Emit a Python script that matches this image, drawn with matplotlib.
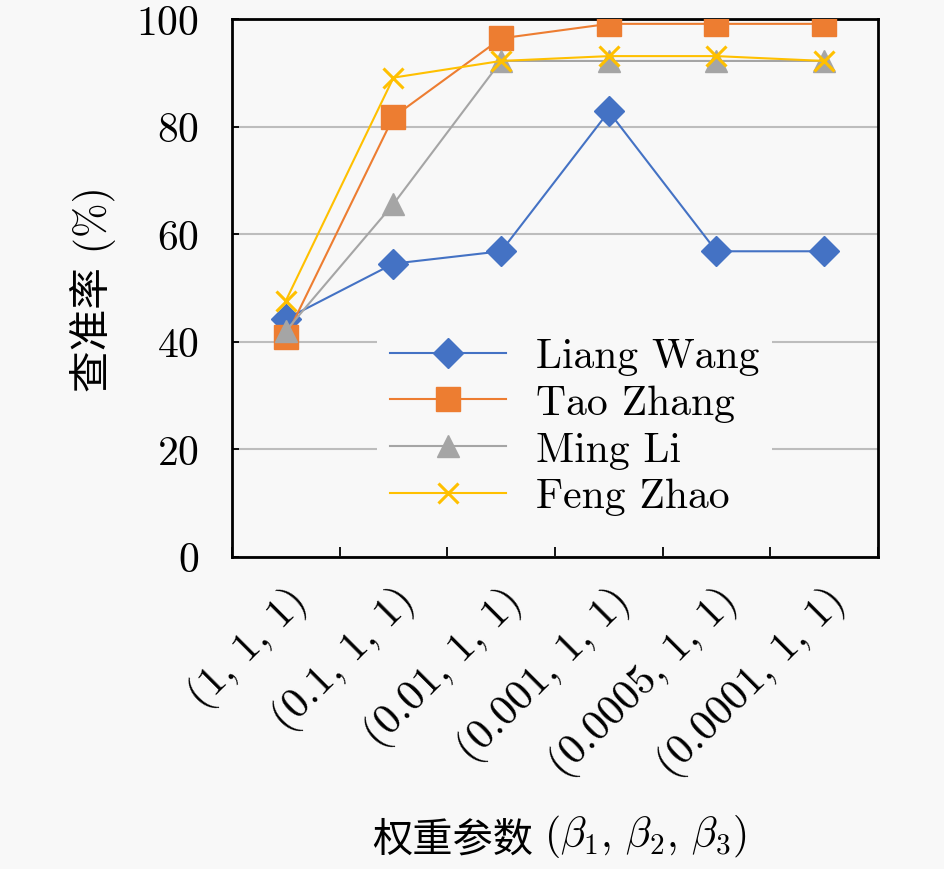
import matplotlib
matplotlib.use('Agg')

import matplotlib.pyplot as plt
import numpy as np

plt.rcParams['font.family'] = ['cmr10', 'Noto Sans CJK SC']
plt.rcParams['mathtext.fontset'] = 'cm'
plt.rcParams['axes.formatter.use_mathtext'] = True

# data
params = ['(1, 1, 1)', '(0.1, 1, 1)', '(0.01, 1, 1)', '(0.001, 1, 1)',
          '(0.0005, 1, 1)', '(0.0001, 1, 1)']
liang_wang = [44.2, 54.5, 56.8, 82.8, 56.8, 56.8]
tao_zhang = [40.8, 81.8, 96.4, 99.1, 99.1, 99.1]
ming_li = [42.0, 65.6, 92.2, 92.2, 92.2, 92.2]
feng_zhao = [47.6, 89.1, 92.2, 93.1, 93.1, 92.2]

series = [
    ('Liang Wang', liang_wang, '#4472C4', 'D', 15),
    ('Tao Zhang', tao_zhang, '#ED7D31', 's', 17),
    ('Ming Li', ming_li, '#A5A5A5', '^', 16),
    ('Feng Zhao', feng_zhao, '#FFC000', 'x', 14),
]

bg = '#f8f8f8'
fig = plt.figure(figsize=(9.45, 8.7), dpi=100, facecolor=bg)
ax = fig.add_axes([0.2455, 0.359, 0.6835, 0.618], facecolor=bg)

x = np.arange(len(params))
for name, vals, col, mk, ms in series:
    ax.plot(x, vals, color=col, lw=1.5, marker=mk, ms=ms, mew=2.2 if mk == 'x' else 1,
            mec=col, mfc=col, label=name, zorder=3)

ax.set_xlim(-0.5, len(params) - 0.5)
ax.set_ylim(0, 100)
ax.set_yticks([0, 20, 40, 60, 80, 100])
ax.grid(axis='y', color='#bdbdbd', lw=1.5, zorder=0)
ax.set_axisbelow(True)

# category labels at centres, tick marks on the boundaries
ax.set_xticks(x)
ax.set_xticklabels(params, rotation=45, ha='right', va='top', rotation_mode='anchor')
ax.set_xticks(np.arange(len(params) + 1) - 0.5, minor=True)
ax.tick_params(axis='x', which='major', length=0, pad=16, labelsize=31)
ax.tick_params(axis='x', which='minor', direction='in', length=7, width=1.3)
ax.tick_params(axis='y', direction='in', length=5, width=1.3, pad=24, labelsize=30)

for sp in ax.spines.values():
    sp.set_linewidth(2)
    sp.set_color('black')

ax.set_ylabel('查准率 (%)', fontsize=30, labelpad=14)

# x label: CJK part and math part as two joined texts
t1 = fig.text(533 / 945, 1 - 852 / 870, '权重参数', fontsize=29, ha='right', va='baseline')
ax.annotate(r'$(\beta_1,\,\beta_2,\,\beta_3)$', xy=(1, 0), xycoords=t1,
            xytext=(8, 0), textcoords='offset points', fontsize=30,
            ha='left', va='bottom')

leg = ax.legend(loc='upper left', bbox_to_anchor=(0.225, 0.43), fontsize=30,
                frameon=True, handlelength=2.8, handletextpad=0.72,
                labelspacing=0.22, borderpad=0.3, borderaxespad=0)
leg.get_frame().set_facecolor(bg)
leg.get_frame().set_edgecolor('none')
leg.get_frame().set_alpha(1)

fig.savefig('out.png', dpi=100, facecolor=bg)
